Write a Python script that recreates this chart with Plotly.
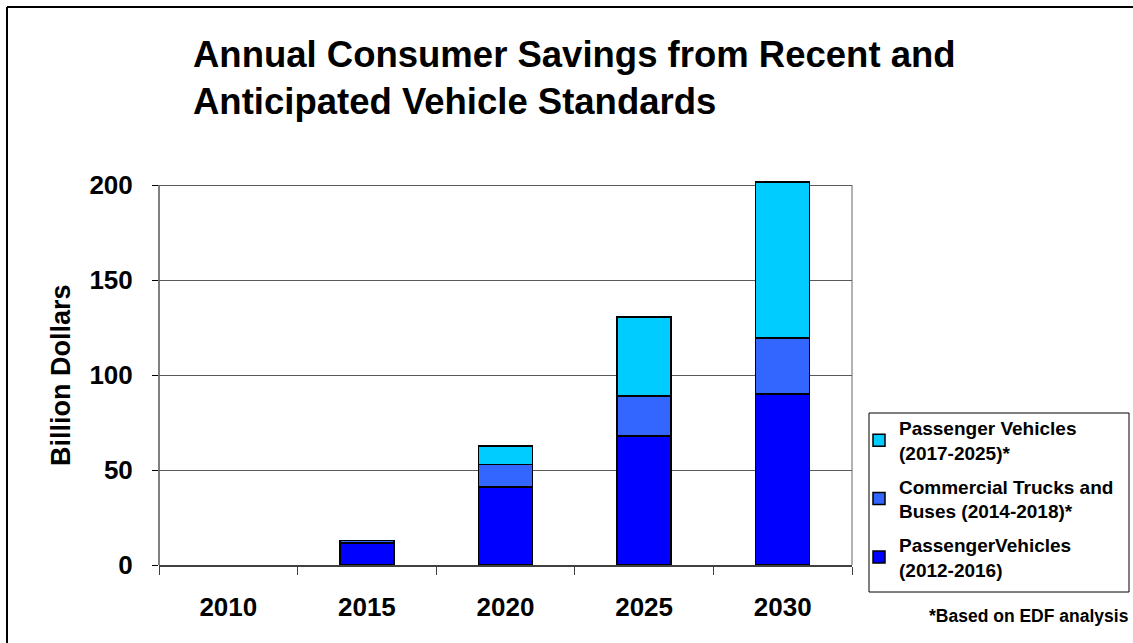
import plotly.graph_objects as go

years = ["2010", "2015", "2020", "2025", "2030"]
pv_2012_2016 = [None, 11.5, 41, 68, 90]
trucks_2014_2018 = [None, 1.3, 12, 21, 29.5]
pv_2017_2025 = [None, None, 9.6, 41.5, 82]
y_ticks = [0, 50, 100, 150, 200]

FONT = "Liberation Sans, Arial, sans-serif"
L, R, T, B = 159, 852, 180, 565
W, H = 1133, 643
PW, PH = R - L, B - T
Y_TOP = 200 * (B - T) / 380.0  # keeps 200 at the 185px line


def px(x):
    return (x - L) / PW


def py(y):
    return (B - y) / PH


fig = go.Figure()
fig.add_trace(go.Bar(x=years, y=pv_2012_2016, name="PassengerVehicles<br>(2012-2016)", legendgroup="a",
                     legendrank=3,
                     marker=dict(color="#0000FF", line=dict(color="black", width=1.5)), cliponaxis=False))
fig.add_trace(go.Bar(x=years, y=trucks_2014_2018, name="Commercial Trucks and<br>Buses (2014-2018)*",
                     legendgroup="b", legendrank=2,
                     marker=dict(color="#3366FF", line=dict(color="black", width=1.5)), cliponaxis=False))
fig.add_trace(go.Bar(x=years, y=pv_2017_2025, name="Passenger Vehicles<br>(2017-2025)*", legendgroup="c",
                     legendrank=1,
                     marker=dict(color="#00CCFF", line=dict(color="black", width=1.5)), cliponaxis=False))

fig.update_layout(
    width=W, height=H,
    margin=dict(l=L, r=W - R, t=T, b=H - B, autoexpand=False),
    barmode="stack", bargap=0.61,
    plot_bgcolor="white", paper_bgcolor="white",
    font=dict(family=FONT, color="black"),
    legend=dict(x=px(859), xanchor="left", y=py(409), yanchor="top",
                bgcolor="rgba(0,0,0,0)", borderwidth=0,
                font=dict(size=19, family=FONT, color="black", weight="bold"),
                traceorder="grouped", tracegroupgap=6, itemwidth=30),
    showlegend=True,
)
fig.update_xaxes(type="category", showline=True, linecolor="#404040", linewidth=2,
                 ticks="outside", tickson="boundaries", ticklen=8, tickcolor="#404040",
                 tickfont=dict(size=26, family=FONT, color="black", weight="bold"),
                 ticklabelstandoff=18, showgrid=False, automargin=False)
fig.update_yaxes(range=[0, Y_TOP], tickvals=y_ticks, showline=False,
                 ticks="outside", ticklen=6, tickcolor="black",
                 tickfont=dict(size=26, family=FONT, color="black", weight="bold"),
                 ticklabelstandoff=14,
                 showgrid=True, gridcolor="#5a5a5a", gridwidth=1, zeroline=False, automargin=False)

# title
fig.add_annotation(text="<b>Annual Consumer Savings from Recent and<br>Anticipated Vehicle Standards</b>",
                   xref="paper", yref="paper", x=px(191), y=py(32), xanchor="left", yanchor="top",
                   align="left", showarrow=False, font=dict(size=36.5, family=FONT, color="black"))
# y-axis title
fig.add_annotation(text="<b>Billion Dollars</b>", xref="paper", yref="paper", x=px(61), y=py(375),
                   xanchor="center", yanchor="middle", textangle=-90, showarrow=False,
                   font=dict(size=27, family=FONT, color="black"))

# y axis line and right plot border (from 0 to 200)
fig.add_shape(type="line", xref="paper", yref="y", x0=0, x1=0, y0=0, y1=200,
              line=dict(color="black", width=1), layer="below")
fig.add_shape(type="line", xref="paper", yref="y", x0=1, x1=1, y0=0, y1=200,
              line=dict(color="#999999", width=1.5), layer="below")
# legend box
fig.add_shape(type="rect", xref="paper", yref="paper", x0=px(869), x1=px(1129), y0=py(592), y1=py(413),
              fillcolor="white", line=dict(color="black", width=1), layer="above")
# outer chart border (left and top)
fig.add_shape(type="line", xref="paper", yref="paper",
              x0=px(7), x1=px(7), y0=py(660), y1=py(7), line=dict(color="black", width=2))
fig.add_shape(type="line", xref="paper", yref="paper",
              x0=px(7), x1=px(1150), y0=py(7), y1=py(7), line=dict(color="black", width=2))

fig.add_annotation(text="<b>*Based on EDF analysis</b>", xref="paper", yref="paper",
                   x=px(1131), y=py(616), xanchor="right", yanchor="middle",
                   showarrow=False, font=dict(size=17.5, family=FONT, color="black"))

fig.write_html("out.html", config={"displayModeBar": False},
               post_script="document.body.style.margin='0px';")
